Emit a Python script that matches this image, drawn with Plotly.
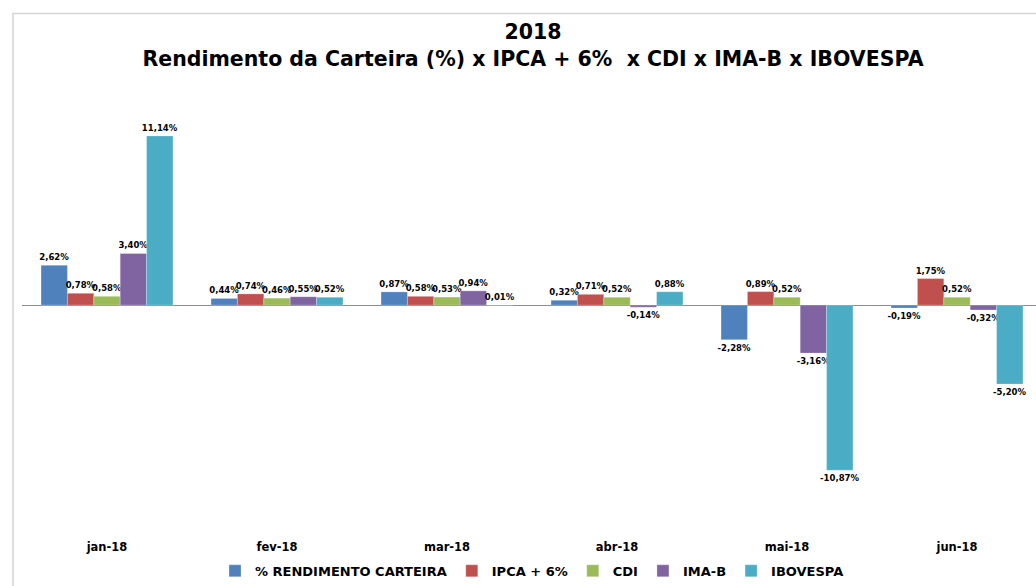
import plotly.graph_objects as go

categories = ["jan-18", "fev-18", "mar-18", "abr-18", "mai-18", "jun-18"]
series_names = ["% RENDIMENTO CARTEIRA", "IPCA + 6%", "CDI", "IMA-B", "IBOVESPA"]
rendimento = [2.62, 0.44, 0.87, 0.32, -2.28, -0.19]
ipca6 = [0.78, 0.74, 0.58, 0.71, 0.89, 1.75]
cdi = [0.58, 0.46, 0.53, 0.52, 0.52, 0.52]
imab = [3.40, 0.55, 0.94, -0.14, -3.16, -0.32]
ibovespa = [11.14, 0.52, 0.01, 0.88, -10.87, -5.20]
colors = ["#4F81BD", "#C0504D", "#9BBB59", "#8064A2", "#4BACC6"]

FONT = "DejaVu Sans"

def fmt(v):
    return f"{v:.2f}".replace(".", ",") + "%"

fig = go.Figure()
for name, vals, col in zip(series_names, [rendimento, ipca6, cdi, imab, ibovespa], colors):
    fig.add_trace(go.Bar(
        x=categories, y=vals, name=name,
        marker=dict(color=col, line=dict(color="rgba(255,255,255,0.5)", width=0.5)),
        text=[fmt(v) for v in vals], textposition="outside",
        textfont=dict(family=FONT, size=8.5, color="#000000", weight="bold"),
        constraintext="none", cliponaxis=False,
    ))

W, H = 1036, 586
L, R, T, B = 22, 0, 123, 46
pw, ph = W - L - R, H - T - B

def px_x(x):
    return (x - L) / pw

def px_y(y):
    return (H - B - y) / ph

fig.update_layout(
    width=W, height=H,
    margin=dict(l=L, r=R, t=T, b=B),
    paper_bgcolor="white", plot_bgcolor="white",
    barmode="group", bargap=0.224, bargroupgap=0,
    title=dict(
        text="2018<br>Rendimento da Carteira (%) x IPCA + 6%  x CDI x IMA-B x IBOVESPA",
        x=px_x(533), xref="paper", xanchor="center",
        y=1 - 39 / H, yanchor="middle",
        font=dict(family=FONT, size=20.5, color="#000000", weight="bold"),
    ),
    xaxis=dict(
        range=[-0.5, -0.5 + pw / 170], showgrid=False, showline=False, ticks="",
        tickfont=dict(family=FONT, size=11.5, color="#000000", weight="bold"),
        fixedrange=True,
    ),
    yaxis=dict(
        range=[-(H - B - 306) / 15.26, (306 - T) / 15.26],
        showgrid=False, showticklabels=False, zeroline=True,
        zerolinecolor="#8C8C8C", zerolinewidth=1, showline=False, ticks="",
        fixedrange=True,
    ),
    legend=dict(
        orientation="h", x=px_x(532), xanchor="center", y=px_y(573), yanchor="middle",
        font=dict(family=FONT, size=13, color="#000000", weight="bold"),
        itemwidth=30, tracegroupgap=0, bgcolor="rgba(0,0,0,0)",
    ),
    showlegend=True,
    shapes=[dict(
        type="rect", xref="paper", yref="paper",
        x0=px_x(13), x1=px_x(1060), y0=px_y(600), y1=px_y(13),
        line=dict(color="#D4D4D4", width=1.5), fillcolor="rgba(0,0,0,0)", layer="below",
    )],
)

fig.write_html(
    "out.html",
    config={"displayModeBar": False},
    post_script="document.body.style.margin='0';document.body.style.overflow='hidden';",
)
